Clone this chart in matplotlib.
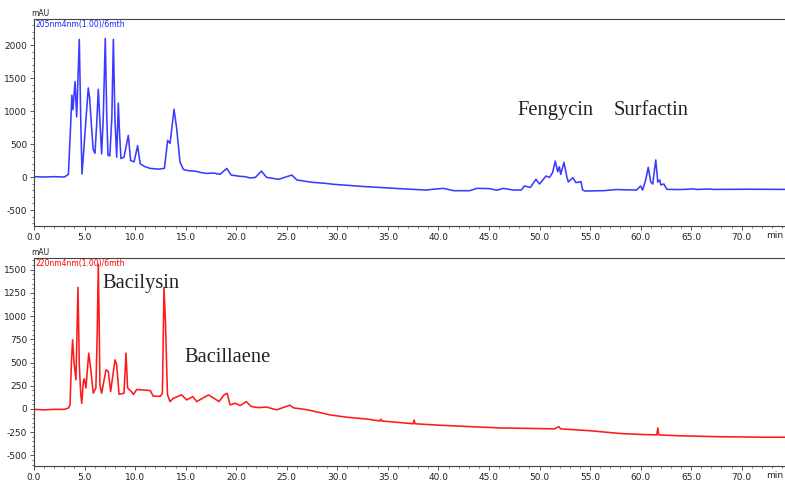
import matplotlib
matplotlib.use("Agg")
import matplotlib.pyplot as plt
from matplotlib.ticker import MultipleLocator, FuncFormatter

# ---------------- data ----------------
top_t = [0, 1, 2, 3, 3.4, 3.6, 3.75, 3.85, 4.06, 4.22, 4.48, 4.62, 4.75, 4.94, 5.15, 5.37, 5.5,
         5.7, 5.85, 6.03, 6.2, 6.36, 6.5, 6.69, 6.85, 7.05, 7.2, 7.32, 7.5, 7.7, 7.85, 8.0, 8.18,
         8.34, 8.45, 8.6, 8.9, 9.33, 9.56, 9.9, 10.25, 10.5, 11.0, 11.5, 12.3, 12.9, 13.22, 13.46,
         13.85, 14.1, 14.44, 14.77, 15.3, 15.9, 16.6, 17.1, 17.8, 18.4, 19.06, 19.5, 20.4, 20.9,
         21.4, 21.9, 22.5, 23.0, 24.2, 25.5, 26.0, 27.5, 28.8, 29.6, 32.9, 34.5, 36.2, 38.8, 39.5,
         40.5, 41.5, 43.1, 43.8, 45.0, 45.8, 46.4, 47.4, 48.2, 48.5, 49.1, 49.65, 50.0, 50.64,
         51.0, 51.3, 51.56, 51.8, 51.96, 52.1, 52.42, 52.7, 52.85, 53.3, 53.6, 54.1, 54.27, 54.5,
         56.3, 57.6, 59.6, 60.0, 60.2, 60.5, 60.76, 61.0, 61.2, 61.5, 61.7, 61.9, 62.0, 62.3,
         62.6, 63.9, 65.3, 65.5, 66.9, 67.1, 70.7, 74.5]
top_v = [5, 0, 5, 0, 40, 700, 1240, 1020, 1445, 910, 2085, 900, 45, 440, 900, 1350, 1200,
         740, 420, 360, 800, 1330, 900, 350, 900, 2100, 900, 330, 320, 900, 2085, 900, 300,
         1120, 700, 280, 300, 630, 250, 230, 475, 200, 155, 130, 120, 130, 555, 510,
         1025, 750, 230, 115, 95, 90, 65, 55, 60, 40, 130, 30, 10, 5,
         -15, -5, 90, -5, -35, 30, -45, -80, -95, -110, -147, -160, -177, -197, -185,
         -172, -207, -207, -172, -175, -200, -172, -197, -197, -136, -157, -35, -106, 15,
         -5, 70, 242, 80, 156, 40, 222, 5, -75, -10, -85, -70, -197, -212,
         -207, -190, -197, -136, -197, -45, 147, -75, -106, 258, -75, -45, -120, -106,
         -187, -190, -180, -188, -182, -188, -185, -188]

bot_t = [0, 1, 2, 3, 3.4, 3.56, 3.7, 3.82, 3.95, 4.15, 4.35, 4.48, 4.62, 4.72, 4.88, 4.98,
         5.14, 5.41, 5.6, 5.86, 6.12, 6.25, 6.36, 6.45, 6.52, 6.69, 7.12, 7.35, 7.58, 8.01,
         8.18, 8.41, 8.9, 9.1, 9.26, 9.66, 9.83, 10.16, 11.5, 11.8, 12.5, 12.7, 12.86, 13.0,
         13.2, 13.45, 13.8, 14.6, 15.1, 15.7, 16.1, 17.25, 17.8, 18.3, 18.8, 19.1, 19.4, 19.9,
         20.4, 21.0, 21.5, 22.2, 23.0, 24.0, 25.3, 25.7, 26.5, 27.5, 29.3, 31.0, 33.0, 34.2,
         34.3, 34.4, 36.0, 37.5, 37.6, 37.7, 40.0, 43.0, 46.1, 49.0, 51.5, 51.9, 52.1, 55.0,
         58.0, 60.0, 61.6, 61.7, 61.8, 64.0, 66.0, 68.0, 70.0, 72.0, 74.5]
bot_v = [-5, -10, -5, -5, 10, 40, 500, 745, 510, 313, 1310, 473, 169, 61, 295, 324,
         226, 601, 440, 169, 226, 800, 1560, 900, 259, 169, 421, 403, 187, 529,
         475, 158, 169, 601, 226, 183, 155, 209, 198, 137, 137, 169, 1310, 942,
         155, 79, 115, 151, 97, 133, 79, 151, 115, 79, 151, 169, 43, 61,
         36, 79, 25, 14, 20, -10, 40, 10, 0, -20, -65, -90, -110, -130,
         -110, -130, -145, -160, -120, -160, -175, -190, -205, -210, -215, -190, -215, -235,
         -265, -275, -280, -205, -280, -290, -295, -300, -302, -305, -305]

x_labels_step = 5.0
top_title = "205nm4nm(1.00)/6mth"
bot_title = "220nm4nm(1.00)/6mth"
top_notes = [("Fengycin", 47.8, 940), ("Surfactin", 57.3, 940)]
bot_notes = [("Bacilysin", 6.8, 1306), ("Bacillaene", 14.9, 507)]

# ---------------- figure ----------------
W, H = 785, 482
fig = plt.figure(figsize=(W / 100, H / 100), dpi=100)
tick_font = ['Liberation Sans Narrow', 'DejaVu Sans']
serif = ['Liberation Serif', 'DejaVu Serif']


def px_rect(x0, y0, x1, y1):
    return [x0 / W, 1 - y1 / H, (x1 - x0) / W, (y1 - y0) / H]


xmax = (785 - 34) / 10.11

ax1 = fig.add_axes(px_rect(34, 19, 785, 226))
ax2 = fig.add_axes(px_rect(34, 258, 785, 466))

configs = [
    (ax1, top_t, top_v, "#3b3bff", (-742, 2394), 500, 100, top_title, top_notes, "#2020ff"),
    (ax2, bot_t, bot_v, "#ff1a1a", (-615, 1626), 250, 50, bot_title, bot_notes, "#ff0000"),
]

for ax, t, v, col, ylim, ymaj, ymin, title, notes, tcol in configs:
    ax.plot(t, v, color=col, lw=1.15)
    ax.set_xlim(0, xmax)
    ax.set_ylim(*ylim)
    ax.xaxis.set_major_locator(MultipleLocator(x_labels_step))
    ax.xaxis.set_minor_locator(MultipleLocator(1))
    ax.yaxis.set_major_locator(MultipleLocator(ymaj))
    ax.yaxis.set_minor_locator(MultipleLocator(ymin))
    ax.xaxis.set_major_formatter(FuncFormatter(lambda x, p: f"{x:.1f}" if x < 72 else ""))
    ax.yaxis.set_major_formatter(FuncFormatter(lambda y, p: f"{int(round(y))}"))
    ax.tick_params(axis='both', which='major', direction='out', length=3, width=0.7,
                   color='#555555', labelsize=6.5, pad=2)
    ax.tick_params(axis='both', which='minor', direction='out', length=1.5, width=0.6,
                   color='#555555')
    for lab in ax.get_xticklabels() + ax.get_yticklabels():
        lab.set_family(tick_font)
        lab.set_color('#222222')
    for s in ['left', 'bottom', 'top']:
        ax.spines[s].set_color('#444444')
        ax.spines[s].set_linewidth(0.8)
    ax.spines['right'].set_visible(False)
    ax.text(0.002, 0.995, title, transform=ax.transAxes, ha='left', va='top',
            fontsize=5.5, color=tcol, family=tick_font)
    ax.text(-0.004, 1.005, "mAU", transform=ax.transAxes, ha='left', va='bottom',
            fontsize=5.5, color='#222222', family=tick_font)
    ax.text(0.998, -0.025, "min", transform=ax.transAxes, ha='right', va='top',
            fontsize=6.5, family=tick_font, color='#222222')
    for name, xt, yt in notes:
        ax.text(xt, yt, name, ha='left', va='baseline', fontsize=14.8,
                family=serif, color='#222222')

fig.savefig("out.png", dpi=100)
